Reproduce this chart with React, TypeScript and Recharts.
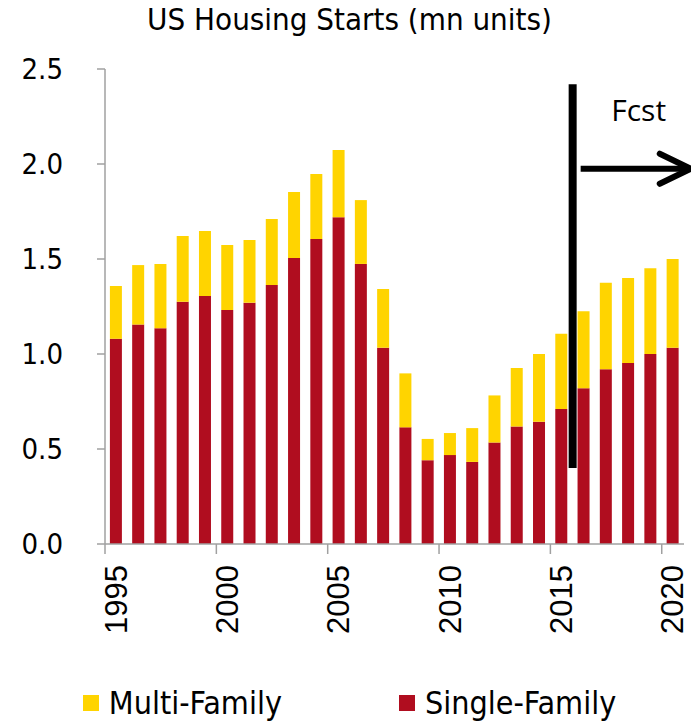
import React from 'react';
import { BarChart, Bar, XAxis, YAxis, ReferenceLine, Legend } from 'recharts';

const YEARS = [1995, 1996, 1997, 1998, 1999, 2000, 2001, 2002, 2003, 2004, 2005, 2006, 2007, 2008, 2009, 2010, 2011, 2012, 2013, 2014, 2015, 2016, 2017, 2018, 2019, 2020];
const SINGLE_FAMILY = [1.08, 1.155, 1.135, 1.275, 1.305, 1.232, 1.27, 1.363, 1.505, 1.605, 1.72, 1.474, 1.033, 0.614, 0.441, 0.468, 0.432, 0.534, 0.619, 0.644, 0.71, 0.82, 0.92, 0.953, 1.0, 1.033];
const MULTI_FAMILY = [0.278, 0.313, 0.339, 0.346, 0.342, 0.342, 0.33, 0.347, 0.348, 0.342, 0.354, 0.336, 0.309, 0.284, 0.112, 0.116, 0.178, 0.248, 0.307, 0.356, 0.397, 0.405, 0.455, 0.447, 0.451, 0.467];
const Y_TICKS = [0, 0.5, 1.0, 1.5, 2.0, 2.5];
const LAST_ACTUAL_YEAR = 2015;
const FIRST_FORECAST_YEAR = 2016;
const LAST_FORECAST_YEAR = 2020;
const DIVIDER_RANGE = [0.4, 2.42];
const ARROW_LEVEL = 1.975;
const TITLE = 'US Housing Starts (mn units)';
const FCST_LABEL = 'Fcst';
const MULTI_NAME = 'Multi-Family';
const SINGLE_NAME = 'Single-Family';

const YELLOW = '#FFD400';
const RED = '#B00D1F';
const AXIS_GREY = '#A0A0A0';
const CONDENSED = "'DejaVu Sans Condensed', 'DejaVu Sans', sans-serif";

const data = YEARS.map((year, i) => ({ year, single: SINGLE_FAMILY[i], multi: MULTI_FAMILY[i] }));

const CHART_W = 699;
const CHART_H = 721;
const MARGIN = { top: 69, right: 15, bottom: 0, left: 0 };
const Y_AXIS_W = 105;
const HALF_BAND = (CHART_W - MARGIN.right - Y_AXIS_W) / YEARS.length / 2;

function XTick(props: any) {
  const { x, y, payload } = props;
  const half = payload && payload.offset ? payload.offset : HALF_BAND;
  const axisY = y - 21;
  return (
    <g>
      <line x1={x - half} x2={x - half} y1={axisY} y2={axisY + 10} stroke={AXIS_GREY} strokeWidth={1.5} />
      <text
        x={x}
        y={y}
        transform={`rotate(-90 ${x} ${y})`}
        textAnchor="end"
        dominantBaseline="central"
        fontSize={31}
        fontFamily="'Liberation Sans', Arial, sans-serif"
        fill="#000"
      >
        {payload.value}
      </text>
    </g>
  );
}

function ForecastArrow(props: any) {
  const { x1, y1, x2 } = props;
  const start = x1 + 8;
  const tip = x2 + 29;
  return (
    <g>
      <line x1={start} x2={tip - 2} y1={y1} y2={y1} stroke="#000" strokeWidth={6} />
      <polyline
        points={`${tip - 31},${y1 - 15} ${tip},${y1} ${tip - 31},${y1 + 15}`}
        fill="none"
        stroke="#000"
        strokeWidth={6}
        strokeLinecap="round"
        strokeLinejoin="round"
      />
      <text
        x={(start + tip) / 2 + 3}
        y={y1 - 48}
        textAnchor="middle"
        fontSize={30}
        fontFamily="'Open Sans', sans-serif"
        fill="#000"
      >
        {FCST_LABEL}
      </text>
    </g>
  );
}

function LegendContent() {
  const item = (color: string, name: string) => (
    <span style={{ display: 'flex', alignItems: 'center' }}>
      <span style={{ display: 'inline-block', width: 16, height: 16, background: color, marginRight: 10 }} />
      {name}
    </span>
  );
  return (
    <div
      style={{
        display: 'flex',
        justifyContent: 'center',
        alignItems: 'center',
        gap: 117,
        fontFamily: CONDENSED,
        fontSize: 32,
        lineHeight: '36px',
        color: '#000',
        height: 36,
      }}
    >
      {item(YELLOW, MULTI_NAME)}
      {item(RED, SINGLE_NAME)}
    </div>
  );
}

export default function App() {
  return (
    <div style={{ position: 'relative', width: CHART_W, height: CHART_H, margin: '-8px 0 0 -8px', background: '#fff' }}>
      <div
        style={{
          position: 'absolute',
          top: 0,
          left: 0,
          width: CHART_W,
          textAlign: 'center',
          fontFamily: CONDENSED,
          fontSize: 31,
          lineHeight: '38px',
          color: '#000',
          zIndex: 2,
        }}
      >
        {TITLE}
      </div>
      <BarChart width={CHART_W} height={CHART_H} data={data} margin={MARGIN} barCategoryGap="22%">
        <XAxis
          dataKey="year"
          height={141}
          interval={4}
          tickLine={false}
          tickSize={10}
          tickMargin={11}
          axisLine={{ stroke: AXIS_GREY, strokeWidth: 1.5 }}
          tick={<XTick />}
        />
        <YAxis
          width={Y_AXIS_W}
          domain={[0, 2.5]}
          ticks={Y_TICKS}
          interval={0}
          tickFormatter={(v: number) => v.toFixed(1)}
          tickSize={8}
          tickMargin={34}
          axisLine={{ stroke: AXIS_GREY, strokeWidth: 1.5 }}
          tickLine={{ stroke: AXIS_GREY, strokeWidth: 1.5 }}
          tick={{ fontSize: 29, fill: '#000', fontFamily: CONDENSED }}
        />
        <Legend verticalAlign="bottom" height={36} wrapperStyle={{ left: 0, width: CHART_W }} content={<LegendContent />} />
        <Bar dataKey="single" name={SINGLE_NAME} stackId="a" fill={RED} isAnimationActive={false} />
        <Bar dataKey="multi" name={MULTI_NAME} stackId="a" fill={YELLOW} isAnimationActive={false} />
        <ReferenceLine
          segment={[
            { x: LAST_ACTUAL_YEAR, y: DIVIDER_RANGE[0] },
            { x: LAST_ACTUAL_YEAR, y: DIVIDER_RANGE[1] },
          ]}
          position="end"
          stroke="#000"
          strokeWidth={8}
          ifOverflow="visible"
        />
        <ReferenceLine
          segment={[
            { x: FIRST_FORECAST_YEAR, y: ARROW_LEVEL },
            { x: LAST_FORECAST_YEAR, y: ARROW_LEVEL },
          ]}
          position="start"
          ifOverflow="visible"
          shape={(p: any) => <ForecastArrow {...p} />}
        />
      </BarChart>
    </div>
  );
}
